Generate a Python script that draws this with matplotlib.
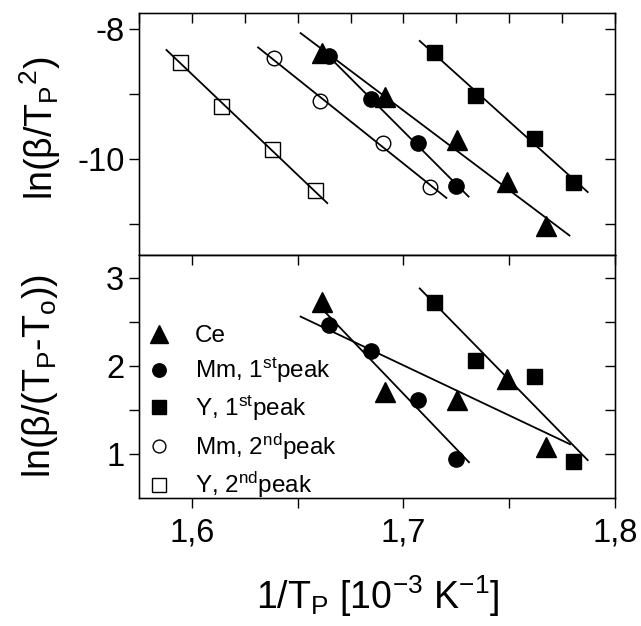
import matplotlib
matplotlib.use("Agg")
import matplotlib.pyplot as plt
from matplotlib.ticker import FixedLocator, FuncFormatter, NullFormatter
import numpy as np

plt.rcParams['font.family'] = ['Liberation Sans', 'DejaVu Sans']
plt.rcParams['mathtext.fontset'] = 'custom'
plt.rcParams['mathtext.rm'] = 'Liberation Sans'
plt.rcParams['mathtext.it'] = 'Liberation Sans'

# ---- data: top panel, ln(beta/Tp^2) vs 1/Tp
ce_x = [1.6613, 1.6915, 1.7253, 1.7489, 1.7675]
ce_top = [-8.37, -9.04, -9.71, -10.35, -11.04]
mm1_x = [1.6648, 1.6849, 1.7070, 1.7248]
mm1_top = [-8.42, -9.08, -9.75, -10.41]
y1_x = [1.7143, 1.7340, 1.7615, 1.7803]
y1_top = [-8.35, -9.02, -9.68, -10.35]
mm2_x = [1.6387, 1.6605, 1.6903, 1.7127]
mm2_top = [-8.45, -9.10, -9.76, -10.43]
y2_x = [1.5945, 1.6140, 1.6380, 1.6580]
y2_top = [-8.51, -9.18, -9.84, -10.48]

# fit lines (end points)
ce_fit_top = ([1.6514, 1.7785], [-8.06, -11.18])
mm1_fit_top = ([1.6617, 1.7308], [-8.32, -10.58])
y1_fit_top = ([1.7077, 1.7871], [-8.18, -10.51])
mm2_fit_top = ([1.6313, 1.7203], [-8.28, -10.60])
y2_fit_top = ([1.5880, 1.6640], [-8.32, -10.68])

# ---- data: bottom panel, ln(beta/(Tp-To))
ce_bot = [2.73, 1.70, 1.61, 1.85, 1.08]
mm1_bot = [2.466, 2.17, 1.61, 0.94]
y1_bot = [2.73, 2.07, 1.88, 0.92]

ce_fit_bot = ([1.6514, 1.7788], [2.56, 1.11])
mm1_fit_bot = ([1.6620, 1.7310], [2.636, 0.906])
y1_fit_bot = ([1.7077, 1.7871], [2.88, 0.93])

fig = plt.figure(figsize=(6.41, 6.26), dpi=100)
ax1 = fig.add_axes([0.2168, 0.5927, 0.7426, 0.3865])
ax2 = fig.add_axes([0.2168, 0.2045, 0.7426, 0.3882])

lw = 1.3
tri = dict(marker='^', color='black', ms=14.5, ls='none', zorder=3)
dot = dict(marker='o', color='black', ms=11, ls='none', zorder=3)
sq = dict(marker='s', color='black', ms=10.8, ls='none', zorder=3)
odot = dict(marker='o', mfc='none', mec='black', mew=1.0, ms=10.5, ls='none', zorder=3)
osq = dict(marker='s', mfc='none', mec='black', mew=1.0, ms=10.8, ls='none', zorder=3)

for ax in (ax1, ax2):
    for s in ax.spines.values():
        s.set_linewidth(1.0)

# top panel
for xs, ys in (ce_fit_top, mm1_fit_top, y1_fit_top, mm2_fit_top, y2_fit_top):
    ax1.plot(xs, ys, color='black', lw=lw, zorder=2)
ax1.plot(ce_x, ce_top, **tri)
ax1.plot(mm1_x, mm1_top, **dot)
ax1.plot(y1_x, y1_top, **sq)
ax1.plot(mm2_x, mm2_top, **odot)
ax1.plot(y2_x, y2_top, **osq)

ax1.set_xlim(1.575, 1.8)
ax1.set_ylim(-11.48, -7.75)

# bottom panel
for xs, ys in (ce_fit_bot, mm1_fit_bot, y1_fit_bot):
    ax2.plot(xs, ys, color='black', lw=lw, zorder=2)
ax2.plot(ce_x, ce_bot, label='Ce', **tri)
ax2.plot(mm1_x, mm1_bot, label=r'Mm, 1$^{\rm st}$peak', **dot)
ax2.plot(y1_x, y1_bot, label=r'Y, 1$^{\rm st}$peak', **sq)
# legend-only entries for the 2nd peaks
ax2.plot([], [], label=r'Mm, 2$^{\rm nd}$peak', **odot)
ax2.plot([], [], label=r'Y, 2$^{\rm nd}$peak', **osq)

ax2.set_xlim(1.575, 1.8)
ax2.set_ylim(0.5, 3.26)

ax2.legend(loc='lower left', bbox_to_anchor=(-0.01, -0.07), frameon=False,
           fontsize=17.5, markerscale=0.88, handlelength=0.8, handletextpad=1.1,
           labelspacing=0.35, borderaxespad=0.2)

# ticks
comma = FuncFormatter(lambda v, p: ('%g' % v).replace('.', ','))
tsize = 23.5

# top panel ticks
ax1.yaxis.set_major_locator(FixedLocator([-8, -10]))
ax1.yaxis.set_minor_locator(FixedLocator([-9, -11]))
ax1.yaxis.set_major_formatter(FuncFormatter(lambda v, p: '%d' % v))
ax1.tick_params(axis='y', which='both', direction='out', length=7, width=1,
                labelsize=tsize, left=True, right=False)
ax1.set_xticks([])
ax1r = ax1.twinx()
ax1r.set_ylim(ax1.get_ylim())
ax1r.yaxis.set_major_locator(FixedLocator([-8, -9, -10, -11]))
ax1r.tick_params(axis='y', direction='in', length=7, width=1, labelright=False)
ax1t = ax1.twiny()
ax1t.set_xlim(ax1.get_xlim())
ax1t.xaxis.set_major_locator(FixedLocator(np.arange(1.575, 1.81, 0.025)))
ax1t.tick_params(axis='x', direction='in', length=7, width=1, labeltop=False)

# bottom panel ticks
ax2.xaxis.set_major_locator(FixedLocator([1.6, 1.7, 1.8]))
ax2.xaxis.set_minor_locator(FixedLocator([1.65, 1.75]))
ax2.xaxis.set_major_formatter(comma)
ax2.xaxis.set_minor_formatter(NullFormatter())
ax2.yaxis.set_major_locator(FixedLocator([1, 2, 3]))
ax2.yaxis.set_minor_locator(FixedLocator([1.5, 2.5]))
ax2.tick_params(axis='both', which='both', direction='out', length=7, width=1,
                labelsize=tsize)
ax2.tick_params(axis='x', pad=7)
ax2r = ax2.twinx()
ax2r.set_ylim(ax2.get_ylim())
ax2r.yaxis.set_major_locator(FixedLocator([1, 1.5, 2, 2.5, 3]))
ax2r.tick_params(axis='y', direction='in', length=7, width=1, labelright=False)
ax2t = ax2.twiny()
ax2t.set_xlim(ax2.get_xlim())
ax2t.xaxis.set_major_locator(FixedLocator([1.6, 1.65, 1.7, 1.75, 1.8]))
ax2t.tick_params(axis='x', direction='in', length=7, width=1, labeltop=False)

# axis labels
fig.text(0.062, 0.795, r'ln($\beta$/T$_{\rm P}$$^{2}$)', rotation=90,
         ha='center', va='center', fontsize=27)
fig.text(0.062, 0.40, r'ln($\beta$/(T$_{\rm P}$-T$_{\rm o}$))', rotation=90,
         ha='center', va='center', fontsize=27)
fig.text(0.589, 0.048, r'1/T$_{\rm P}$ [10$^{-3}$ K$^{-1}$]',
         ha='center', va='center', fontsize=27)

fig.savefig('out.png', dpi=100)
